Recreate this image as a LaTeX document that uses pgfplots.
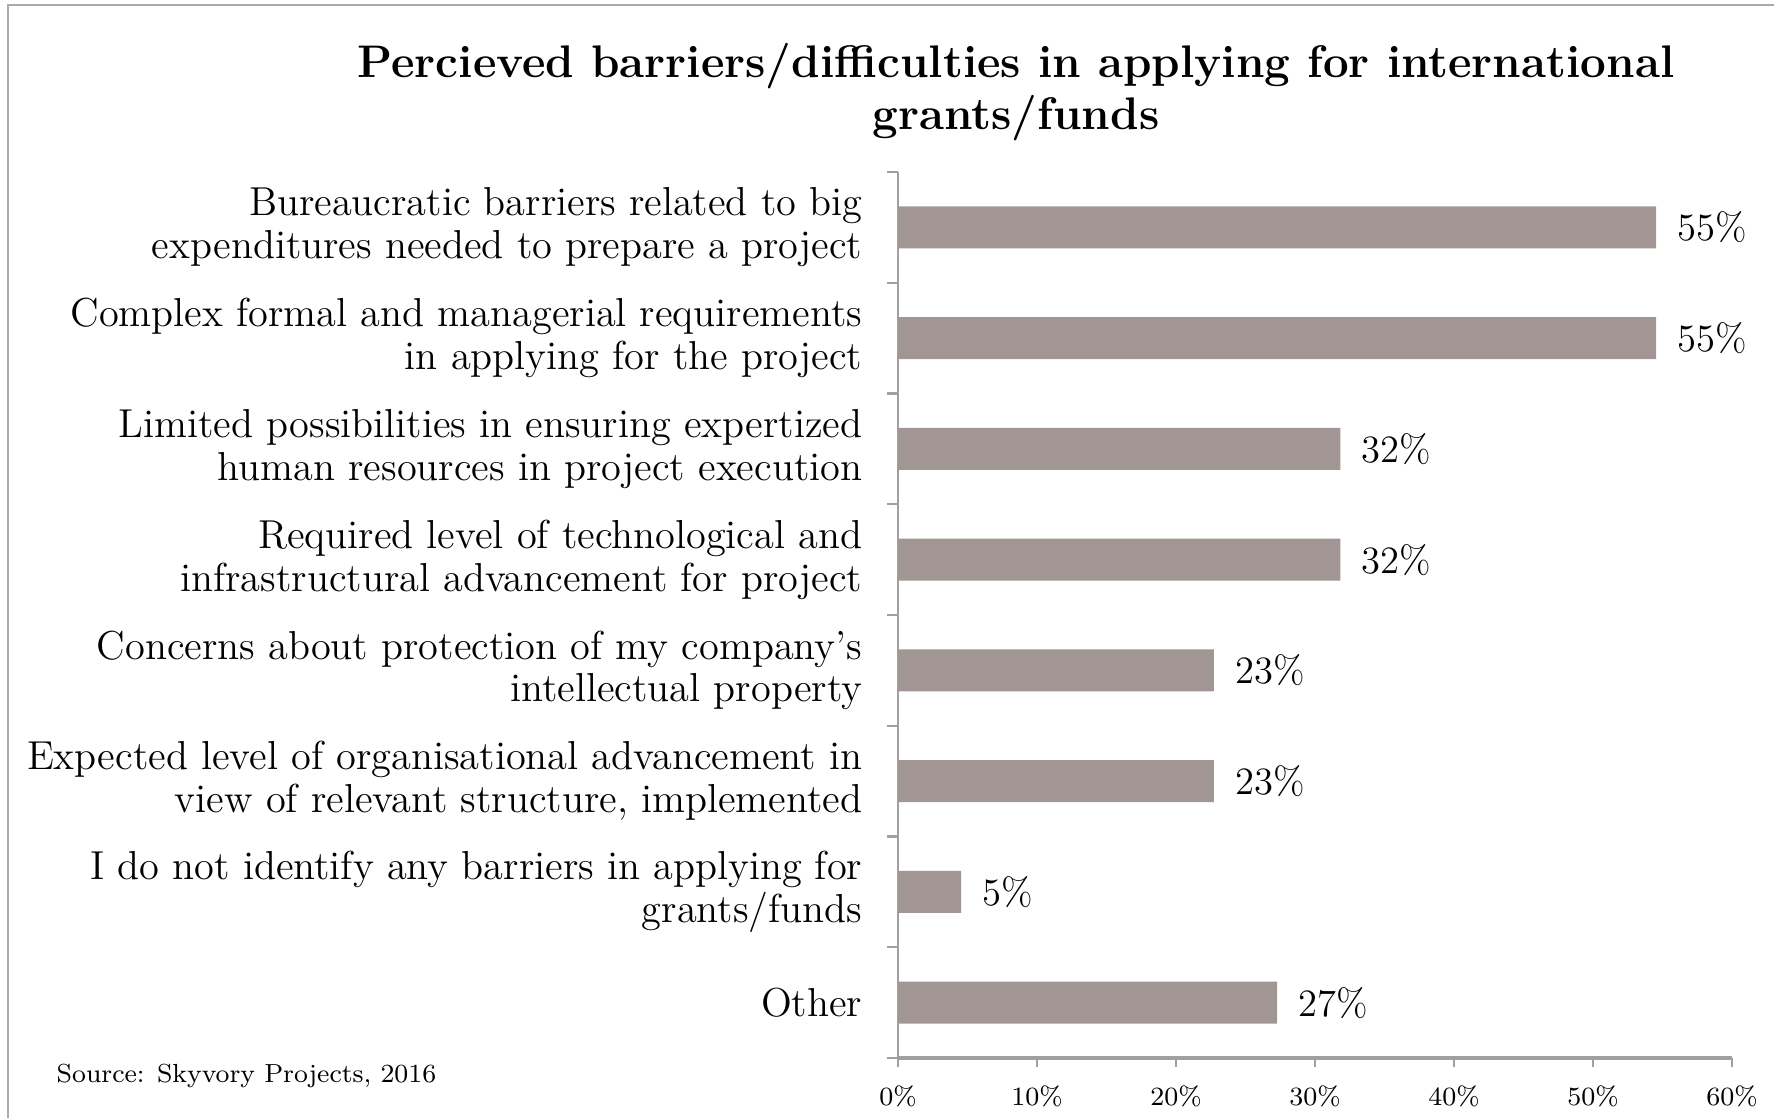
\documentclass[border=0pt]{standalone}
\usepackage{pgfplots}
\pgfplotsset{compat=1.18}
\definecolor{barc}{RGB}{162,150,149}
\definecolor{axc}{RGB}{160,160,160}
\definecolor{framec}{RGB}{170,170,170}
\begin{document}
\begin{tikzpicture}[x=1cm,y=1cm]
\useasboundingbox (0,0) rectangle (17.74,11.18);
\draw[framec, line width=0.6pt] (0.08,0) -- (0.08,11.13) -- (17.74,11.13);
\node[font=\bfseries\fontsize{13}{15}\selectfont, anchor=base] at (10.16,10.40) {Percieved barriers/difficulties in applying for international};
\node[font=\bfseries\fontsize{13}{15}\selectfont, anchor=base] at (10.16,9.88) {grants/funds};
\node[font=\fontsize{8}{9}\selectfont, anchor=base west, inner sep=0pt] at (0.56,0.35) {\scalebox{0.93}{Source: Skyvory Projects, 2016}};
\begin{axis}[
  at={(8.98cm,0.60cm)}, anchor=south west,
  width=8.34cm, height=8.86cm, scale only axis,
  /pgf/number format/assume math mode=true,
  xbar, bar width=0.42cm,
  xmin=0, xmax=60, ymin=-0.5, ymax=7.5,
  clip=false,
  axis lines=left,
  axis line style={draw=axc,-},
  x axis line style={line width=0.9pt},
  y axis line style={line width=0.4pt},
  tick align=outside,
  major tick length=0.09cm,
  minor tick length=0.11cm,
  tick style={draw=axc, line width=0.6pt},
  every major y tick/.append style={draw=none},
  xtick={0,10,...,60},
  xticklabel={\pgfmathprintnumber{\tick}\%},
  xticklabel style={font=\fontsize{7.5}{9}\selectfont, inner sep=0pt, yshift=-0.18cm},
  ytick={0,...,7},
  minor ytick={-0.5,0.5,...,7.5},
  yticklabels={
    {Other},
    {I do not identify any barriers in applying for\\grants/funds},
    {Expected level of organisational advancement in\\view of relevant structure, implemented},
    {Concerns about protection of my company's\\intellectual property},
    {Required level of technological and\\infrastructural advancement for project},
    {Limited possibilities in ensuring expertized\\human resources in project execution},
    {Complex formal and managerial requirements\\in applying for the project},
    {Bureaucratic barriers related to big\\expenditures needed to prepare a project}
  },
  yticklabel style={font=\fontsize{11.5}{12.2}\selectfont, align=right, inner sep=0pt, xshift=-0.26cm},
  point meta=x,
  nodes near coords={\pgfmathprintnumber[fixed,precision=0]{\pgfplotspointmeta}\%},
  nodes near coords style={font=\fontsize{11}{12}\selectfont, anchor=west, inner sep=0pt, xshift=0.21cm},
]
\addplot[fill=barc, draw=none] coordinates {
  (27.27,0) (4.55,1) (22.73,2) (22.73,3) (31.82,4) (31.82,5) (54.55,6) (54.55,7)
};
\end{axis}
\end{tikzpicture}
\end{document}
